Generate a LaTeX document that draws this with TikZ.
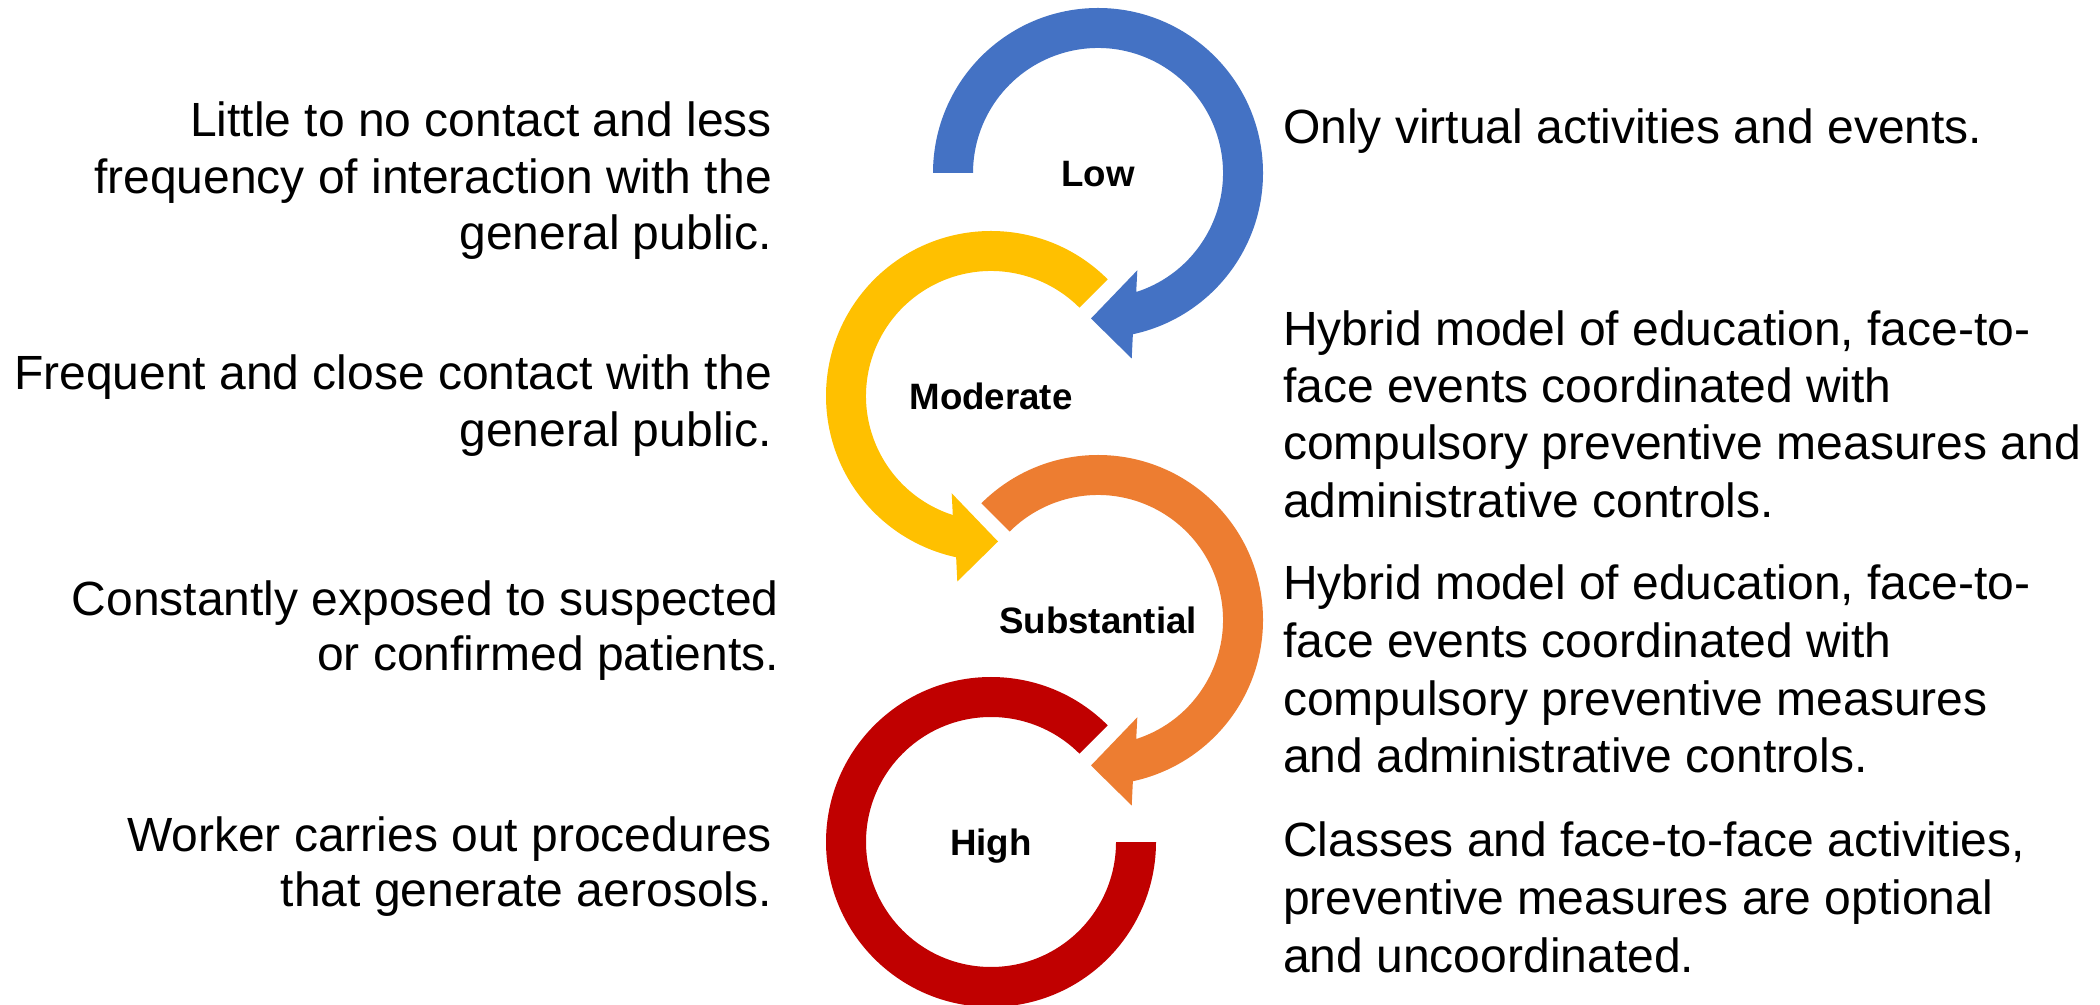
\documentclass[tikz,border=0pt]{standalone}
\usepackage{fontspec}
\setmainfont{Liberation Sans}
\definecolor{cBlue}{HTML}{4472C4}
\definecolor{cYellow}{HTML}{FFC000}
\definecolor{cOrange}{HTML}{ED7D31}
\definecolor{cRed}{HTML}{C00000}
\begin{document}
\begin{tikzpicture}[x=1pt,y=1pt,
  lefttxt/.style={anchor=base east,inner sep=0pt,font=\fontsize{48}{57}\selectfont},
  righttxt/.style={anchor=base west,inner sep=0pt,font=\fontsize{48}{57}\selectfont},
  lvl/.style={anchor=base,inner sep=0pt,font=\fontsize{36.7}{44}\selectfont\bfseries}]
\useasboundingbox (0,0) rectangle (2100,1004);
\fill[white] (0,0) rectangle (2100,1004);

% Low (blue), clockwise
\begin{scope}[shift={(1098,831)}]
\fill[cBlue] (180:165pt) arc[start angle=180,end angle=-77.8,radius=165pt]
  -- (33.7,-185.5) -- (-7,-145.5) -- (39.3,-97.3)
  -- (-72.2:125pt) arc[start angle=-72.2,end angle=180,radius=125pt] -- cycle;
\end{scope}
% Moderate (yellow), counterclockwise
\begin{scope}[shift={(991,608)}]
\fill[cYellow] (45:165pt) arc[start angle=45,end angle=257.8,radius=165pt]
  -- (-33.7,-185.5) -- (7,-145.5) -- (-39.3,-97.3)
  -- (252.2:125pt) arc[start angle=252.2,end angle=45,radius=125pt] -- cycle;
\end{scope}
% Substantial (orange), clockwise
\begin{scope}[shift={(1098,384)}]
\fill[cOrange] (135:165pt) arc[start angle=135,end angle=-77.8,radius=165pt]
  -- (33.7,-185.5) -- (-7,-145.5) -- (39.3,-97.3)
  -- (-72.2:125pt) arc[start angle=-72.2,end angle=135,radius=125pt] -- cycle;
\end{scope}
% High (red)
\begin{scope}[shift={(991,162)}]
\fill[cRed] (45:165pt) arc[start angle=45,end angle=360,radius=165pt]
  -- (0:125pt) arc[start angle=360,end angle=45,radius=125pt] -- cycle;
\end{scope}

% level labels
\node[lvl] (low) at (1098,817.8) {Low};
\node[lvl] (moderate) at (991,594.8) {Moderate};
\node[lvl] (substantial) at (1098,370.8) {Substantial};
\node[lvl] (high) at (991,148.8) {High};

% left texts
\node[lefttxt] (l1a) at (772,867) {Little to no contact and less};
\node[lefttxt] (l1b) at (772,810.5) {frequency of interaction with the};
\node[lefttxt] (l1c) at (772,754) {general public.};
\node[lefttxt] (l2a) at (772,614) {Frequent and close contact with the};
\node[lefttxt] (l2b) at (772,557.5) {general public.};
\node[lefttxt] (l3a) at (779,388.3) {Constantly exposed to suspected};
\node[lefttxt] (l3b) at (779,333) {or confirmed patients.};
\node[lefttxt] (l4a) at (772,152.7) {Worker carries out procedures};
\node[lefttxt] (l4b) at (772,97.5) {that generate aerosols.};

% right texts
\node[righttxt] (r1a) at (1283,860) {Only virtual activities and events.};
\node[righttxt] (r2a) at (1283,658.5) {Hybrid model of education, face-to-};
\node[righttxt] (r2b) at (1283,601.5) {face events coordinated with};
\node[righttxt] (r2c) at (1283,544) {compulsory preventive measures and};
\node[righttxt] (r2d) at (1283,486.5) {administrative controls.};
\node[righttxt] (r3a) at (1283,404) {Hybrid model of education, face-to-};
\node[righttxt] (r3b) at (1283,346) {face events coordinated with};
\node[righttxt] (r3c) at (1283,288.5) {compulsory preventive measures};
\node[righttxt] (r3d) at (1283,231) {and administrative controls.};
\node[righttxt] (r4a) at (1283,148) {Classes and face-to-face activities,};
\node[righttxt] (r4b) at (1283,90) {preventive measures are optional};
\node[righttxt] (r4c) at (1283,32) {and uncoordinated.};
\end{tikzpicture}
\end{document}
